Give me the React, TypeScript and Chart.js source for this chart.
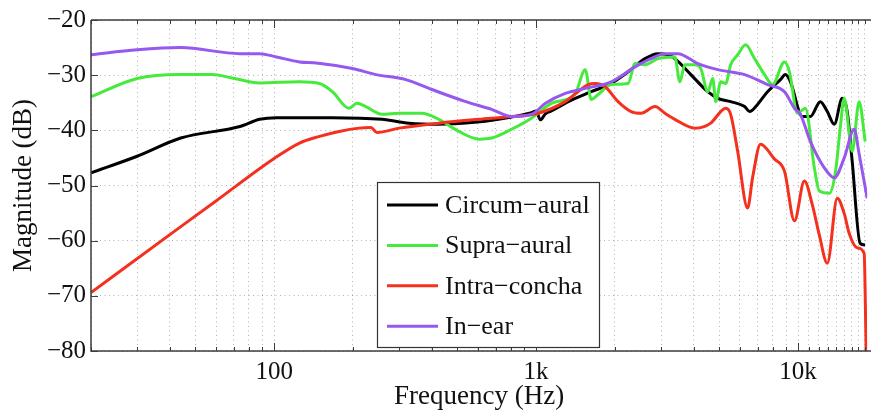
import React, { useEffect, useRef } from 'react';
import { Chart, registerables } from 'chart.js';

Chart.register(...registerables);

// ---------- data ----------
const circumFreq = [20, 30, 44, 74, 88, 102, 167, 258, 327, 425, 568, 719, 960, 1000, 1038, 1085, 1144, 1327, 1623, 1933, 2244, 2604, 2917, 3184, 3385, 3895, 4521, 4934, 5528, 6249, 6528, 7001, 7642, 8564, 8948, 9348, 10383, 11134, 12156, 12924, 13742, 14736, 15395, 16082, 17250, 18024];
const circumDb = [-47.7, -44.7, -41.4, -39.3, -38.0, -37.7, -37.7, -38.0, -38.7, -38.9, -38.6, -38.0, -36.8, -36.5, -38.1, -37.0, -36.5, -34.8, -33.0, -31.5, -29.4, -27.0, -26.1, -26.3, -27.0, -29.9, -33.0, -34.2, -34.8, -35.7, -36.6, -35.3, -33.0, -30.8, -29.9, -31.2, -37.5, -37.5, -34.8, -36.6, -38.9, -34.2, -36.6, -45.6, -60.5, -60.8];

const supraFreq = [20, 30, 44, 58, 69, 88, 125, 149, 167, 193, 207, 224, 258, 300, 366, 425, 507, 604, 676, 806, 960, 1144, 1410, 1540, 1623, 1726, 1933, 2244, 2386, 2604, 2917, 3385, 3537, 3696, 4034, 4251, 4521, 4722, 4849, 5065, 5291, 5528, 5878, 6304, 6820, 7444, 7984, 8870, 9266, 9939, 10659, 11534, 12050, 13152, 13900, 14479, 14998, 16082, 17099, 18024];
const supraDb = [-33.9, -30.6, -29.9, -29.9, -30.5, -31.4, -31.2, -31.5, -33.0, -36.0, -35.1, -35.7, -37.1, -36.9, -36.9, -38.0, -40.2, -41.6, -41.4, -39.8, -37.8, -35.1, -33.3, -29.0, -34.4, -33.5, -31.7, -31.5, -27.9, -28.1, -27.0, -26.7, -31.2, -28.1, -28.1, -28.8, -33.0, -30.6, -34.8, -31.2, -31.5, -28.1, -26.3, -24.5, -27.0, -29.9, -31.7, -27.6, -29.4, -36.9, -36.0, -46.8, -51.0, -51.4, -47.4, -39.6, -34.2, -43.8, -34.8, -42.0];

const intraFreq = [20, 40, 60, 100, 125, 149, 177, 211, 234, 247, 300, 425, 604, 806, 1020, 1292, 1581, 1681, 1834, 2055, 2303, 2514, 2842, 3101, 3385, 4034, 4640, 5065, 5291, 5528, 5878, 6415, 6701, 7188, 8125, 8870, 9681, 10566, 11333, 12050, 12924, 14104, 14998, 15669, 16802, 17866, 18183];
const intraDb = [-69.4, -58.9, -52.8, -45.1, -42.3, -41.1, -40.2, -39.6, -39.5, -40.4, -39.6, -38.7, -38.0, -37.5, -36.9, -34.8, -31.7, -31.5, -32.1, -34.8, -36.6, -36.9, -35.7, -36.9, -38.0, -39.6, -38.7, -36.6, -36.0, -37.1, -43.8, -54.1, -48.6, -42.5, -45.2, -47.4, -56.4, -49.2, -53.5, -59.0, -64.1, -52.3, -55.1, -58.7, -61.3, -62.3, -80];

const inEarFreq = [20, 30, 44, 74, 88, 102, 125, 145, 199, 245, 318, 400, 539, 676, 806, 960, 1085, 1292, 1540, 1933, 2386, 2744, 3101, 3476, 4141, 4934, 6249, 7642, 8870, 9681, 10202, 11134, 12588, 13742, 14998, 16368, 17099, 18343];
const inEarDb = [-26.3, -25.4, -25.0, -26.1, -26.1, -26.7, -27.6, -27.8, -28.8, -29.9, -30.8, -32.6, -34.8, -36.2, -37.5, -37.1, -35.1, -33.3, -32.4, -31.2, -28.5, -27.0, -26.1, -26.1, -27.9, -29.0, -29.9, -31.7, -33.0, -36.0, -37.1, -42.0, -46.8, -48.6, -45.0, -39.8, -44.3, -52.3];

const seriesNames = ['Circum\u2212aural', 'Supra\u2212aural', 'Intra\u2212concha', 'In\u2212ear'];
const seriesColors = ['#000000', '#46ea3c', '#f4301e', '#9658ee'];

const xTickValues = [20, 30, 40, 50, 60, 70, 80, 90, 100, 200, 300, 400, 500, 600, 700, 800, 900, 1000, 2000, 3000, 4000, 5000, 6000, 7000, 8000, 9000, 10000, 11000, 12000, 13000, 14000, 15000, 16000, 17000, 18000];
const xMajorTicks = [100, 1000, 10000];
const xMajorLabels = ['100', '1k', '10k'];
const yTickValues = [-80, -70, -60, -50, -40, -30, -20];

const X_MIN = 20;
const X_MAX = 18350;
const Y_MIN = -80;
const Y_MAX = -20;

const FONT = '"Liberation Serif", "Times New Roman", serif';

const toPoints = (fs: number[], ds: number[]) => fs.map((f, i) => ({ x: f, y: ds[i] }));

const framePlugin = {
  id: 'matlabFrame',
  afterDatasetsDraw(chart: any) {
    const { ctx, chartArea, scales } = chart;
    const { left, top, bottom } = chartArea;
    const xs = scales.x;
    const ys = scales.y;
    ctx.save();
    ctx.strokeStyle = '#3c3c3c';
    ctx.lineWidth = 1.5;
    ctx.beginPath();
    ctx.moveTo(left, top);
    ctx.lineTo(chart.width, top);
    ctx.moveTo(left, top);
    ctx.lineTo(left, bottom);
    ctx.lineTo(chart.width, bottom);
    ctx.stroke();
    ctx.lineWidth = 1;
    ctx.beginPath();
    for (const v of xTickValues) {
      const px = Math.round(xs.getPixelForValue(v)) + 0.5;
      const len = xMajorTicks.includes(v) ? 8 : 4;
      ctx.moveTo(px, bottom);
      ctx.lineTo(px, bottom - len);
      ctx.moveTo(px, top);
      ctx.lineTo(px, top + len);
    }
    for (const v of yTickValues) {
      const py = Math.round(ys.getPixelForValue(v)) + 0.5;
      ctx.moveTo(left, py);
      ctx.lineTo(left + 7, py);
    }
    ctx.stroke();
    ctx.restore();
  },
};

const legendPlugin = {
  id: 'boxLegend',
  afterDraw(chart: any) {
    const { ctx, chartArea } = chart;
    const bx = chartArea.left + 286;
    const by = chartArea.top + 162;
    const bw = 222;
    const bh = 165;
    ctx.save();
    ctx.fillStyle = '#ffffff';
    ctx.fillRect(bx, by, bw, bh);
    ctx.strokeStyle = '#333333';
    ctx.lineWidth = 1.2;
    ctx.strokeRect(bx + 0.5, by + 0.5, bw, bh);
    ctx.font = `26px ${FONT}`;
    ctx.textBaseline = 'middle';
    ctx.textAlign = 'left';
    chart.data.datasets.forEach((ds: any, i: number) => {
      const cy = by + 23 + i * 40.4;
      ctx.strokeStyle = ds.borderColor;
      ctx.lineWidth = 3;
      ctx.beginPath();
      ctx.moveTo(bx + 10, cy);
      ctx.lineTo(bx + 61, cy);
      ctx.stroke();
      ctx.fillStyle = '#111111';
      ctx.fillText(ds.label, bx + 68, cy + 1);
    });
    ctx.restore();
  },
};

export default function App() {
  const canvasRef = useRef<HTMLCanvasElement | null>(null);

  useEffect(() => {
    document.body.style.margin = '0';
    const canvas = canvasRef.current;
    if (!canvas) return;
    const seriesData = [
      toPoints(circumFreq, circumDb),
      toPoints(supraFreq, supraDb),
      toPoints(intraFreq, intraDb),
      toPoints(inEarFreq, inEarDb),
    ];
    const chart = new Chart(canvas, {
      type: 'line',
      data: {
        datasets: seriesData.map((d, i) => ({
          label: seriesNames[i],
          data: d,
          borderColor: seriesColors[i],
          backgroundColor: seriesColors[i],
          borderWidth: 3,
          pointRadius: 0,
          fill: false,
          tension: 0,
          cubicInterpolationMode: 'monotone',
          order: 3 - i,
        })),
      },
      options: {
        responsive: false,
        animation: false,
        devicePixelRatio: 1,
        layout: { padding: { left: 0, right: 1, top: 18, bottom: 0 } },
        plugins: {
          legend: { display: false },
          tooltip: { enabled: false },
        },
        scales: {
          x: {
            type: 'logarithmic',
            min: X_MIN,
            max: X_MAX,
            afterBuildTicks: (scale: any) => {
              scale.ticks = xTickValues.map((v) => ({ value: v }));
            },
            afterFit: (scale: any) => {
              scale.height = 61;
            },
            ticks: {
              autoSkip: false,
              maxRotation: 0,
              minRotation: 0,
              padding: 6,
              color: '#111111',
              font: { family: FONT, size: 25, lineHeight: 1.2 },
              callback: (v: any) => {
                const idx = xMajorTicks.indexOf(Number(v));
                return idx >= 0 ? xMajorLabels[idx] : '';
              },
            },
            grid: {
              display: true,
              drawTicks: false,
              color: 'rgba(0,0,0,0.3)',
              lineWidth: 1,
            },
            border: { display: false, dash: [1, 3.5] },
            title: {
              display: true,
              text: 'Frequency (Hz)',
              color: '#111111',
              font: { family: FONT, size: 27, lineHeight: 1.1 },
              padding: { top: 0, bottom: 0 },
            },
          },
          y: {
            type: 'linear',
            min: Y_MIN,
            max: Y_MAX,
            afterBuildTicks: (scale: any) => {
              scale.ticks = yTickValues.map((v) => ({ value: v }));
            },
            afterFit: (scale: any) => {
              scale.width = 91;
            },
            ticks: {
              padding: 5,
              color: '#111111',
              font: { family: FONT, size: 25, lineHeight: 1.2 },
              callback: (v: any) => {
                const n = Number(v);
                return n < 0 ? '\u2212' + Math.abs(n) : String(n);
              },
            },
            grid: {
              display: true,
              drawTicks: false,
              color: 'rgba(0,0,0,0.3)',
              lineWidth: 1,
            },
            border: { display: false, dash: [1, 3.5] },
            title: {
              display: true,
              text: 'Magnitude (dB)',
              color: '#111111',
              font: { family: FONT, size: 27, lineHeight: 1.1 },
              padding: { top: 9, bottom: 0 },
            },
          },
        },
      } as any,
      plugins: [framePlugin, legendPlugin],
    });
    return () => chart.destroy();
  }, []);

  return (
    <div style={{ position: 'absolute', left: 0, top: 0, width: 871, height: 412, background: '#ffffff' }}>
      <canvas ref={canvasRef} width={871} height={412} style={{ display: 'block' }} />
    </div>
  );
}
